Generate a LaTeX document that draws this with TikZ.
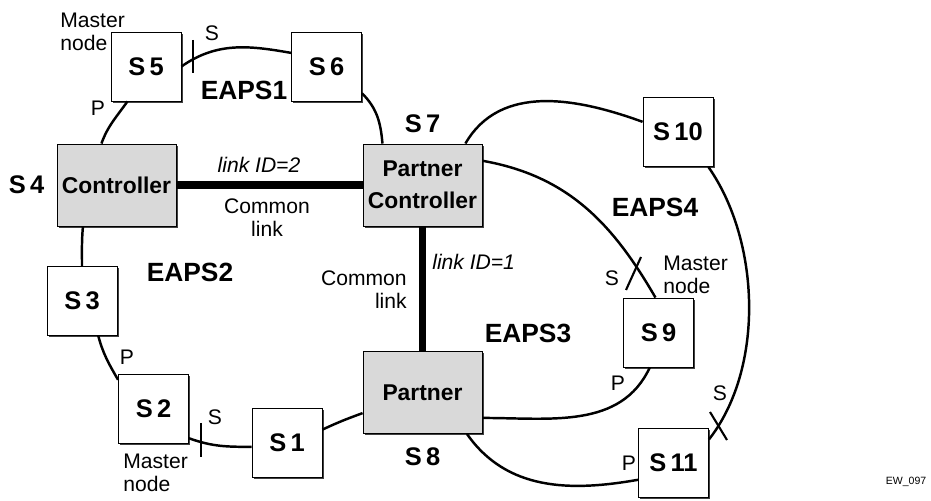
\documentclass[tikz,border=0pt]{standalone}
\usepackage{fontspec}
\setmainfont{Liberation Sans}
\usepackage{tikz}
\usetikzlibrary{positioning, shadows}

\begin{document}
\begin{tikzpicture}[
  every node/.style={font=\fontsize{12}{13}\selectfont},
  sw/.style={draw, line width=0.5pt, fill=white, minimum width=1.4cm, minimum height=1.38cm, inner sep=0pt,
    font=\fontsize{14.5}{16}\selectfont\bfseries,
    drop shadow={shadow xshift=0.9pt, shadow yshift=-0.9pt, fill=black!75, opacity=1}},
  bigsw/.style={sw, fill=black!15, minimum width=2.38cm, minimum height=1.64cm, align=center,
    font=\fontsize{13}{18}\selectfont\bfseries},
  ring/.style={line width=1.4pt},
  common/.style={line width=4pt},
  tickmark/.style={line width=1.2pt},
  eaps/.style={font=\fontsize{15}{17}\selectfont\bfseries},
  swlabel/.style={font=\fontsize{14.5}{16}\selectfont\bfseries, inner sep=0pt},
  note/.style={align=left, inner sep=0pt},
]
  \useasboundingbox (0,0) rectangle (18.62,10.02);

  \node[sw] (s5) at (2.92,8.69) {S\,5};
  \node[sw] (s6) at (6.53,8.69) {S\,6};
  \node[bigsw] (ctrl) at (2.33,6.32) {Controller};
  \node[bigsw] (pctrl) at (8.45,6.32) {Partner\\Controller};
  \node[sw] (s10) at (13.56,7.38) {S\,10};
  \node[sw] (s3) at (1.64,4.00) {S\,3};
  \node[sw] (s2) at (3.07,1.85) {S\,2};
  \node[sw] (s1) at (5.74,1.17) {S\,1};
  \node[bigsw] (partner) at (8.45,2.17) {Partner};
  \node[sw] (s9) at (13.17,3.37) {S\,9};
  \node[sw] (s11) at (13.47,0.77) {S\,11};

  \node[swlabel, left=0.24cm of ctrl] (s4lbl) {S\,4};
  \node[swlabel, above=0.2cm of pctrl] (s7lbl) {S\,7};
  \node[swlabel, below=0.26cm of partner] (s8lbl) {S\,8};

  \draw[ring] (s5.east) to[out=35, in=170] (s6.159);
  \draw[ring] (s6.-37) to[out=-45, in=95] (pctrl.134);
  \draw[ring] (s5.-118) to[out=-125, in=70] (ctrl.110);
  \draw[ring] (ctrl.-129) to[out=-95, in=90] (s3.north);
  \draw[ring] (s3.-65) to[out=-75, in=120] (s2.141);
  \draw[ring] (s2.-40) to[out=-20, in=180] (s1.187);
  \draw[ring] (s1.20) to[out=25, in=200] (partner.199);
  \draw[ring] (pctrl.44) to[out=60, in=160] (s10.164);
  \draw[ring] (pctrl.22) to[out=-10, in=120] (s9.95);
  \draw[ring] (s10.-49) to[out=-55, in=52, looseness=0.85] (s11.33);
  \draw[ring] (s9.-104) to[out=-115, in=0] (partner.-23);
  \draw[ring] (partner.-43) to[out=-55, in=190] (s11.206);
  \draw[common] (ctrl) -- (pctrl);
  \draw[common] (pctrl) -- (partner);

  \draw[tickmark] (3.86,9.22) -- (3.86,8.56);
  \draw[tickmark] (4.02,1.56) -- (4.02,0.88);
  \draw[tickmark] (12.52,4.22) -- (12.82,4.88);
  \draw[tickmark] (14.20,1.78) -- (14.54,1.22);

  \node[note, anchor=west] (m5) at (1.2,9.38) {Master\\node};
  \node (s5s) at (4.24,9.36) {S};
  \node (s5p) at (1.96,7.86) {P};
  \node[eaps] (e1) at (4.88,8.22) {EAPS1};
  \node[font=\fontsize{12}{13}\selectfont\itshape] (id2) at (5.18,6.72) {link ID=2};
  \node[align=center, inner sep=0pt] (cl2) at (5.34,5.66) {Common\\link};
  \node[eaps] (e2) at (3.8,4.58) {EAPS2};
  \node[align=right, inner sep=0pt, anchor=east] (cl1) at (8.14,4.22) {Common\\link};
  \node[font=\fontsize{12}{13}\selectfont\itshape, anchor=west, inner sep=0pt] (id1) at (8.64,4.78) {link ID=1};
  \node[eaps] (e3) at (10.56,3.36) {EAPS3};
  \node[eaps] (e4) at (13.1,5.88) {EAPS4};
  \node[note, anchor=west] (m9) at (13.26,4.52) {Master\\node};
  \node (s9s) at (12.24,4.46) {S};
  \node (s9p) at (12.36,2.36) {P};
  \node (s11s) at (14.4,2.16) {S};
  \node (s11p) at (12.58,0.76) {P};
  \node (s2p) at (2.54,2.88) {P};
  \node (s2s) at (4.3,1.68) {S};
  \node[note, anchor=west] (m2) at (2.46,0.56) {Master\\node};
  \node[font=\fontsize{6}{7}\selectfont] (ew) at (18.12,0.38) {EW\_097};
\end{tikzpicture}
\end{document}
